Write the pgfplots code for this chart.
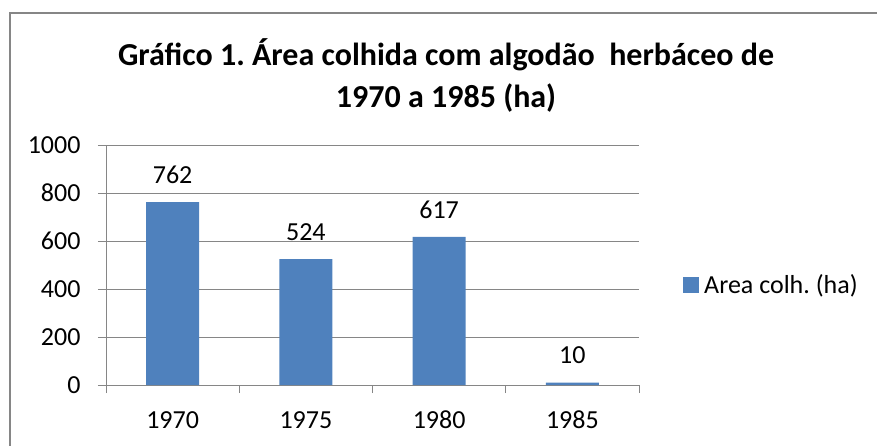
\documentclass[border=0pt]{standalone}
\usepackage{pgfplots}
\pgfplotsset{compat=1.18}
\usepackage{fontspec}
\setmainfont{Carlito}
\frenchspacing
\definecolor{barblue}{HTML}{4F81BD}
\definecolor{axgray}{HTML}{868686}
\begin{document}
\begin{tikzpicture}
\path[use as bounding box] (0pt,0pt) rectangle (877pt,-445pt);
\draw[axgray, line width=1.5pt] (10pt,-446pt) -- (10pt,-13pt) -- (878pt,-13pt);
\begin{axis}[
  at={(106pt,-385pt)}, anchor=south west,
  width=533pt, height=240pt, scale only axis,
  xmin=0.5, xmax=4.5, ymin=0, ymax=1000,
  ytick={0,200,...,1000},
  xtick={0.5,1.5,2.5,3.5,4.5}, xticklabels={},
  extra x ticks={1,2,3,4},
  extra x tick labels={1970,1975,1980,1985},
  extra x tick style={major tick length=0pt, grid=none},
  axis x line=bottom, axis y line=left,
  axis line style={-, axgray, line width=1pt},
  ymajorgrids, grid style={axgray, line width=1pt},
  tick align=outside, major tick length=8pt,
  tick style={axgray, line width=1pt},
  /pgf/number format/assume math mode=true,
  /pgf/number format/1000 sep={},
  ticklabel style={font=\fontsize{26}{31}\selectfont, text=black},
  yticklabel style={xshift=-14pt},
  xticklabel style={anchor=center, text height=17pt, text depth=0pt, yshift=-35pt},
  ybar, bar width=53pt,
  nodes near coords,
  every node near coord/.append style={anchor=center, yshift=27pt, font=\fontsize{26}{31}\selectfont, text=black},
  clip=false,
  title={Gráfico 1. Área colhida com algodão\ \ herbáceo de\\1970 a 1985 (ha)},
  title style={at={(0.638,1.265)}, anchor=center, align=center, font=\bfseries\fontsize{32}{42}\selectfont},
  legend style={at={(1.0826,0.4167)}, anchor=west, draw=none, fill=none, inner sep=0pt,
    font=\fontsize{26}{31}\selectfont, nodes={inner sep=2pt}, column sep=3pt},
  legend image code/.code={\fill[barblue] (0pt,-8pt) rectangle (16pt,8pt);},
]
\addplot[fill=barblue, draw=none] coordinates {(1,762) (2,524) (3,617) (4,10)};
\addlegendentry{Area colh. (ha)}
\end{axis}
\end{tikzpicture}
\end{document}
